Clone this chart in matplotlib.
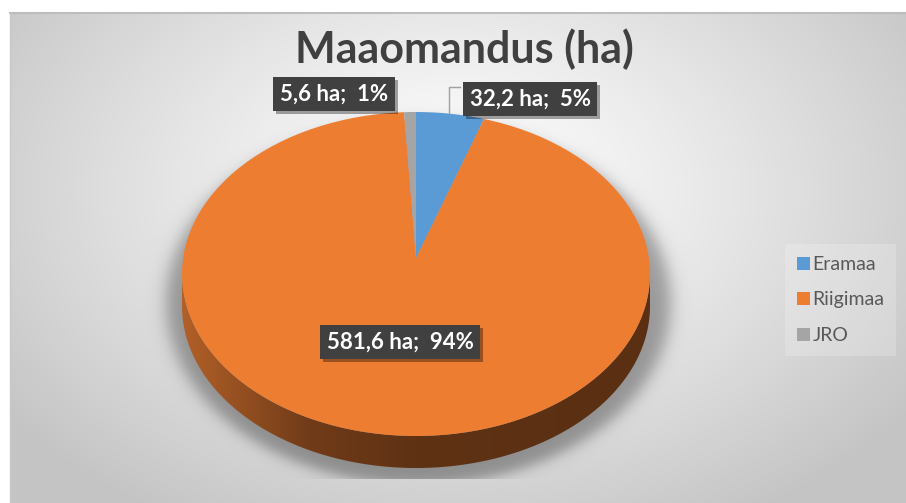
import numpy as np
import matplotlib
matplotlib.use("Agg")
import matplotlib.pyplot as plt
from matplotlib.patches import PathPatch, Circle, Patch
from matplotlib.path import Path
from matplotlib.lines import Line2D
import matplotlib.patheffects as pe

categories = ["Eramaa", "Riigimaa", "JRO"]
areas_ha = [32.2, 581.6, 5.6]
colors = ["#5B9BD5", "#ED7D31", "#A5A5A5"]
title = "Maaomandus (ha)"

W, H = 906, 503
fig = plt.figure(figsize=(W / 100, H / 100), dpi=100)
fig.patch.set_facecolor("white")


def px(x, y):
    # pikslid -> figuuri koordinaadid
    return x / W, 1 - y / H


# taust: radiaalne gradient + piruka vari
bg = fig.add_axes([10 / W, 0, 1 - 10 / W, 1 - 13 / H])
bg.set_axis_off()
yy, xx = np.mgrid[13:503, 10:906].astype(float)
d = np.sqrt(((xx - 455) / 560.0) ** 2 + ((yy - 190) / 380.0) ** 2)
d = np.clip(d, 0, 1)
v = 1 - (1 - 0.77) * d ** 1.2
r = np.sqrt(((xx - 418) / 252.0) ** 2 + ((yy - 302) / 182.0) ** 2)
s = 0.5 * (1 - np.tanh((r - 1) * 215 / 9.0))
s[yy > 478] = 0
v = v * (1 - 0.34 * s)
bg.imshow(np.dstack([v, v, v]), extent=[0, 1, 0, 1], aspect="auto", origin="upper")
bg.set_xlim(0, 1)
bg.set_ylim(0, 1)

fig.add_artist(Line2D([10 / W, 1], [1 - 13 / H, 1 - 13 / H], color="#bdbdbd", lw=1.5))
fig.add_artist(Line2D([10 / W, 10 / W], [0, 1 - 13 / H], color="#c8c8c8", lw=1))

# pirukas (ellips = ühikring, tipp veidi keskpunktist kõrgemal)
depth = 32 / 162
apex = 16 / 162
ax = fig.add_axes([182 / W, (H - 468) / H, 468 / W, 356 / H])
wedges, _ = ax.pie(areas_ha, colors=colors, startangle=90, counterclock=False,
                   center=(0, apex), radius=2.5,
                   wedgeprops=dict(linewidth=0, zorder=3))
rim = Circle((0, 0), 1, transform=ax.transData)
for w in wedges:
    w.set_clip_on(True)
    w.set_clip_path(rim)

# külg
t = np.linspace(np.pi, 2 * np.pi, 300)
top = np.column_stack([np.cos(t), np.sin(t)])
bot = np.column_stack([np.cos(t[::-1]), np.sin(t[::-1]) - depth])
verts = np.vstack([top, bot, top[:1]])
side = PathPatch(Path(verts, closed=True), facecolor="none", edgecolor="none", zorder=2)
ax.add_patch(side)
gx = np.linspace(-1, 1, 400)
sx = [-1, -0.45, 0, 1]
sc = np.array([[178, 96, 40], [112, 59, 24], [95, 50, 20], [90, 47, 18]]) / 255.0
rgb = np.column_stack([np.interp(gx, sx, sc[:, i]) for i in range(3)])
grad = np.tile(rgb[None, :, :], (2, 1, 1))
im = ax.imshow(grad, extent=[-1, 1, -1 - depth, 0], aspect="auto", zorder=2)
im.set_clip_path(side)

ax.set_aspect("auto")
ax.set_xlim(-1, 1)
ax.set_ylim(-1 - depth, 1)
ax.set_axis_off()

# pealkiri
fig.text(*px(464, 49), title, ha="center", va="center", fontsize=31,
         fontweight="bold", family="Lato", color="#404040")

# sildid
total = sum(areas_ha)
label_px = [(530, 99), (400, 342), (334, 94)]
for a, (x, y) in zip(areas_ha, label_px):
    s_lab = f"{a:.1f}".replace(".", ",") + " ha;  " + f"{a / total * 100:.0f}%"
    txt = fig.text(*px(x, y), s_lab, ha="center", va="center", color="white",
                   fontsize=16, fontweight="bold", family="Lato", zorder=10,
                   bbox=dict(boxstyle="square,pad=0.3", fc="#404040", ec="none"))
    txt.get_bbox_patch().set_path_effects(
        [pe.withSimplePatchShadow(offset=(2, -2), shadow_rgbFace="black", alpha=0.35)])

# juhtjoon
fig.add_artist(Line2D([449 / W, 449 / W, 460 / W], [1 - 113 / H, 1 - 87 / H, 1 - 87 / H],
                      color="#a0a0a0", lw=1))

# legend
handles = [Patch(facecolor=c, edgecolor="none") for c in colors]
leg = fig.legend(handles, categories, loc="center left", bbox_to_anchor=px(785, 300),
                 frameon=True, fancybox=False, prop={"family": "Lato", "size": 14},
                 labelcolor="#595959", handlelength=0.67, handleheight=0.67,
                 handletextpad=0.15, labelspacing=0.95, borderpad=0.6,
                 borderaxespad=0, framealpha=0.2)
leg.get_frame().set_facecolor("white")
leg.get_frame().set_edgecolor("none")

fig.savefig("out.png", dpi=100)
